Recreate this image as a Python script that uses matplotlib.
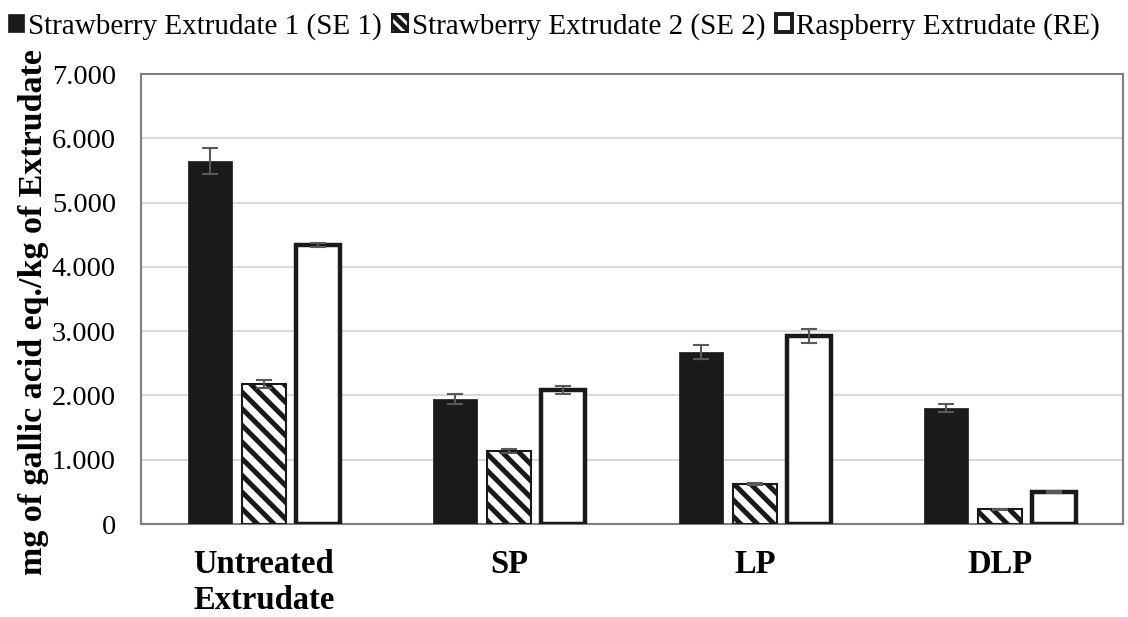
import numpy as np
import matplotlib
matplotlib.use('Agg')
import matplotlib.pyplot as plt
from matplotlib.patches import Patch

categories = ['Untreated\nExtrudate', 'SP', 'LP', 'DLP']
series = ['Strawberry Extrudate 1 (SE 1)', 'Strawberry Extrudate 2 (SE 2)', 'Raspberry Extrudate (RE)']
se1 = [5.65, 1.95, 2.67, 1.80]
se2 = [2.18, 1.13, 0.62, 0.23]
re = [4.34, 2.08, 2.92, 0.50]
se1_err = [0.20, 0.08, 0.11, 0.06]
se2_err = [0.06, 0.03, 0.02, 0.01]
re_err = [0.03, 0.06, 0.11, 0.01]
yticks = [0, 1, 2, 3, 4, 5, 6, 7]
ytick_labels = ['0', '1.000', '2.000', '3.000', '4.000', '5.000', '6.000', '7.000']

plt.rcParams['font.family'] = ['Liberation Serif', 'DejaVu Serif']
plt.rcParams['hatch.linewidth'] = 3.6
plt.rcParams['hatch.color'] = '#1a1a1a'

fig = plt.figure(figsize=(11.28, 6.17), dpi=100)
ax = fig.add_axes([0.125, 0.1507, 0.8706, 0.7293])

x = np.arange(len(categories))
w = 0.18
step = 0.22
dark = '#1a1a1a'
ecol = '#595959'
ekw = dict(ecolor=ecol, elinewidth=1.5, capsize=6, capthick=1.5)

ax.bar(x - step, se1, w, color=dark, edgecolor=dark, linewidth=0.5,
       yerr=se1_err, error_kw=ekw, zorder=3)
ax.bar(x, se2, w, color='white', edgecolor=dark, linewidth=1.5, hatch='\\\\',
       yerr=se2_err, error_kw=ekw, zorder=3)
ax.bar(x + step, re, w, color='white', edgecolor=dark, linewidth=3.2,
       yerr=re_err, error_kw=ekw, zorder=3)

ax.set_xlim(-0.5, len(categories) - 0.5)
ax.set_ylim(0, 7)
ax.set_yticks(yticks)
ax.set_yticklabels(ytick_labels, fontsize=20.5)
ax.set_xticks(x)
ax.set_xticklabels(categories, fontsize=23.5, fontweight='bold', linespacing=1.2)
ax.tick_params(axis='both', length=0)
ax.tick_params(axis='y', pad=18)
ax.tick_params(axis='x', pad=18)
ax.grid(axis='y', color='#d9d9d9', linewidth=1.5, zorder=0)
ax.set_axisbelow(True)
for s in ax.spines.values():
    s.set_color('#7f7f7f')
    s.set_linewidth(1.5)

ax.set_ylabel('mg of gallic acid eq./kg of Extrudate', fontsize=24.5,
              fontweight='bold')
ax.yaxis.set_label_coords(-0.094, 0.47)

handles = [
    Patch(facecolor=dark, edgecolor=dark, linewidth=0.5),
    Patch(facecolor='white', edgecolor=dark, linewidth=1.5, hatch='\\\\\\'),
    Patch(facecolor='white', edgecolor=dark, linewidth=2.8),
]
fig.legend(handles, series, loc='upper center', bbox_to_anchor=(0.491, 1.022),
           ncol=3, frameon=False, fontsize=21, handlelength=0.55,
           handleheight=0.55, handletextpad=0.15, columnspacing=0.35)

fig.savefig('out.png', dpi=100)
